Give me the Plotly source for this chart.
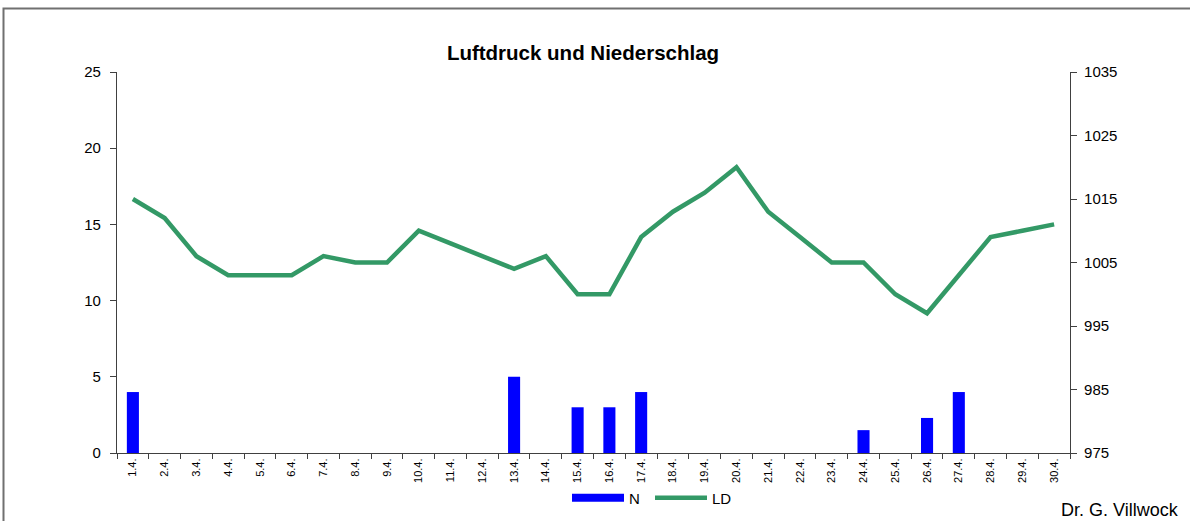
import plotly.graph_objects as go

days = [f"{d}.4." for d in range(1, 31)]
niederschlag = [4, 0, 0, 0, 0, 0, 0, 0, 0, 0, 0, 0, 5, 0, 3, 3, 4, 0, 0, 0,
                0, 0, 0, 1.5, 0, 2.3, 4, 0, 0, 0]
luftdruck = [1015, 1012, 1006, 1003, 1003, 1003, 1006, 1005, 1005, 1010,
             1008, 1006, 1004, 1006, 1000, 1000, 1009, 1013, 1016, 1020,
             1013, 1009, 1005, 1005, 1000, 997, 1003, 1009, 1010, 1011]
left_ticks = [0, 5, 10, 15, 20, 25]
right_ticks = [975, 985, 995, 1005, 1015, 1025, 1035]

FONT = "Liberation Sans, Arial, sans-serif"
AX = "#404040"
BLUE = "#0000FF"
GREEN = "#339966"

fig = go.Figure()
fig.add_trace(go.Bar(x=days, y=niederschlag, name="N", marker=dict(color=BLUE, line=dict(width=0)),
                     yaxis="y", showlegend=False))
fig.add_trace(go.Scatter(x=[None], y=[None], name="N", mode="lines",
                         line=dict(color=BLUE, width=8), yaxis="y", hoverinfo="skip"))
fig.add_trace(go.Scatter(x=days, y=luftdruck, name="LD", mode="lines",
                         line=dict(color=GREEN, width=4.5), yaxis="y2"))

W, H = 1190, 521
L, T = 117, 72
R = W - 1070
B = H - 453
pw = W - L - R
ph = H - T - B

def px(x):
    return (x - L) / pw

def py(y):
    return (H - B - y) / ph

fig.update_layout(
    width=W, height=H,
    margin=dict(l=L, r=R, t=T, b=B, autoexpand=False),
    paper_bgcolor="white", plot_bgcolor="white",
    font=dict(family=FONT, color="black", size=15),
    bargap=0.62,
    showlegend=True,
    legend=dict(orientation="h", x=px(567), xanchor="left", y=py(498), yanchor="middle",
                font=dict(size=15), itemwidth=52, entrywidth=16, entrywidthmode="pixels",
                traceorder="normal", bgcolor="rgba(0,0,0,0)"),
    title=dict(text="<b>Luftdruck und Niederschlag</b>", x=583 / W, xanchor="center",
               y=1 - 53 / H, yanchor="middle", font=dict(size=20.5, family=FONT, color="black")),
    xaxis=dict(type="category", tickangle=-90, tickfont=dict(size=11),
               showline=True, linecolor=AX, linewidth=1.2, ticks="outside", ticklen=5,
               tickcolor=AX, tickson="boundaries", showgrid=False, zeroline=False,
               range=[-0.5, 29.5], fixedrange=True),
    yaxis=dict(range=[0, 25], tickvals=left_ticks, showline=True, linecolor=AX, linewidth=1.2,
               ticks="outside", ticklen=6, tickcolor=AX, showgrid=False, zeroline=False,
               tickfont=dict(size=15), ticklabelstandoff=6),
    yaxis2=dict(range=[975, 1035], tickvals=right_ticks, overlaying="y", side="right",
                showline=True, linecolor=AX, linewidth=1.2, ticks="outside", ticklen=6,
                tickcolor=AX, showgrid=False, zeroline=False, tickfont=dict(size=15),
                ticklabelstandoff=4),
    shapes=[dict(type="rect", xref="paper", yref="paper", x0=px(3.5), x1=px(1250), y0=py(560), y1=py(8.5),
                 line=dict(color="#707070", width=2), fillcolor="rgba(0,0,0,0)", layer="below")],
    annotations=[dict(text="Dr. G. Villwock", xref="paper", yref="paper", x=px(1181), y=py(510),
                      xanchor="right", yanchor="middle", showarrow=False,
                      font=dict(size=18, family=FONT, color="black"))],
)

fig.write_html("out.html", config={"displayModeBar": False},
               post_script="document.body.style.margin='0';document.body.style.overflow='hidden';")
